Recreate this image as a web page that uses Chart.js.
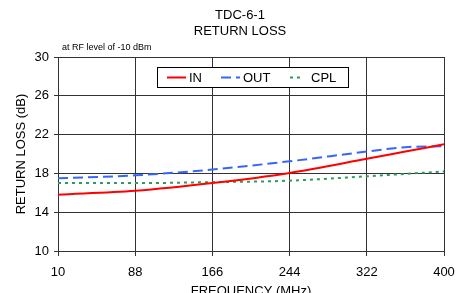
<!DOCTYPE html>
<html>
<head>
<meta charset="utf-8">
<script src="https://cdn.jsdelivr.net/npm/chart.js@4/dist/chart.umd.min.js"></script>
<style>
  html, body { margin: 0; padding: 0; background: #fff; }
  #wrap { width: 459px; height: 293px; }
</style>
</head>
<body>
<div id="wrap"><canvas id="chart" width="459" height="293"></canvas></div>
<script>
// frequencies (MHz) and return loss (dB)
const freqs = [10, 88, 166, 244, 322, 361, 400];
const inLoss = [15.8, 16.2, 17.0, 18.05, 19.5, 20.25, 21.0];
const outLoss = [17.5, 17.8, 18.4, 19.25, 20.25, 20.7, 20.8];
const cplLoss = [17.0, 17.0, 17.1, 17.25, 17.7, 17.95, 18.2];
const xTicks = [10, 88, 166, 244, 322, 400];
const yTicks = [10, 14, 18, 22, 26, 30];

const FONT = "'Liberation Sans', Arial, sans-serif";

function pts(ys) {
  return freqs.map((f, i) => ({x: f, y: ys[i]}));
}

// titles + boxed legend inside the plot
const decor = {
  id: 'decor',
  afterDraw(chart) {
    const ctx = chart.ctx;
    ctx.save();
    ctx.fillStyle = '#000';
    ctx.textAlign = 'center';
    ctx.textBaseline = 'middle';
    ctx.font = '13px ' + FONT;
    ctx.fillText('TDC-6-1', 240, 15);
    ctx.fillText('RETURN LOSS', 240, 31);
    ctx.textAlign = 'left';
    ctx.font = '9px ' + FONT;
    ctx.fillText('at RF level of -10 dBm', 62, 48);

    // legend box
    const bx = 157, by = 67, bw = 191, bh = 20;
    ctx.fillStyle = '#fff';
    ctx.fillRect(bx, by, bw, bh);
    ctx.strokeStyle = '#000';
    ctx.lineWidth = 1;
    ctx.strokeRect(bx + 0.5, by + 0.5, bw, bh);
    const items = [
      {x: 167, len: 19, tx: 189},
      {x: 221, len: 19, tx: 243},
      {x: 290, len: 14, tx: 311}
    ];
    const cy = by + bh / 2 + 0.5;
    chart.data.datasets.forEach((ds, i) => {
      const it = items[i];
      ctx.beginPath();
      ctx.strokeStyle = ds.borderColor;
      ctx.lineWidth = ds.borderWidth;
      ctx.setLineDash(ds.borderDash || []);
      ctx.moveTo(it.x, cy);
      ctx.lineTo(it.x + it.len, cy);
      ctx.stroke();
      ctx.setLineDash([]);
      ctx.fillStyle = '#000';
      ctx.font = '13px ' + FONT;
      ctx.fillText(ds.label, it.tx, cy + 1);
    });
    ctx.restore();
  }
};

new Chart(document.getElementById('chart'), {
  type: 'line',
  data: {
    datasets: [
      {label: 'IN', data: pts(inLoss), borderColor: '#ff0000', borderWidth: 2, pointRadius: 0, cubicInterpolationMode: 'monotone'},
      {label: 'OUT', data: pts(outLoss), borderColor: '#3366ff', borderWidth: 2, borderDash: [10, 5], pointRadius: 0, cubicInterpolationMode: 'monotone'},
      {label: 'CPL', data: pts(cplLoss), borderColor: '#2e9960', borderWidth: 2, borderDash: [3, 4], pointRadius: 0, cubicInterpolationMode: 'monotone'}
    ]
  },
  options: {
    responsive: false,
    animation: false,
    layout: {padding: {top: 57, right: 15, left: 0, bottom: 0}},
    plugins: {legend: {display: false}, tooltip: {enabled: false}},
    scales: {
      x: {
        type: 'linear',
        min: 10,
        max: 400,
        afterBuildTicks: s => { s.ticks = xTicks.map(v => ({value: v})); },
        afterFit: s => { s.height = 42; s.paddingLeft = 0; s.paddingRight = 0; },
        grid: {color: '#333', lineWidth: 1, tickLength: 5, tickColor: '#333'},
        border: {color: '#333'},
        ticks: {color: '#000', font: {family: FONT, size: 13}, padding: 9, maxRotation: 0},
        title: {display: true, text: 'FREQUENCY (MHz)', color: '#000', font: {family: FONT, size: 13}, padding: {top: 0, bottom: -6}}
      },
      y: {
        min: 10,
        max: 30,
        afterBuildTicks: s => { s.ticks = yTicks.map(v => ({value: v})); },
        afterFit: s => { s.width = 58; },
        grid: {color: '#333', lineWidth: 1, tickLength: 4, tickColor: '#333'},
        border: {color: '#333'},
        ticks: {color: '#000', font: {family: FONT, size: 13}, padding: 5},
        title: {display: true, text: 'RETURN LOSS (dB)', color: '#000', font: {family: FONT, size: 13}, padding: {top: 14, bottom: 0}}
      }
    }
  },
  plugins: [decor]
});
</script>
</body>
</html>
